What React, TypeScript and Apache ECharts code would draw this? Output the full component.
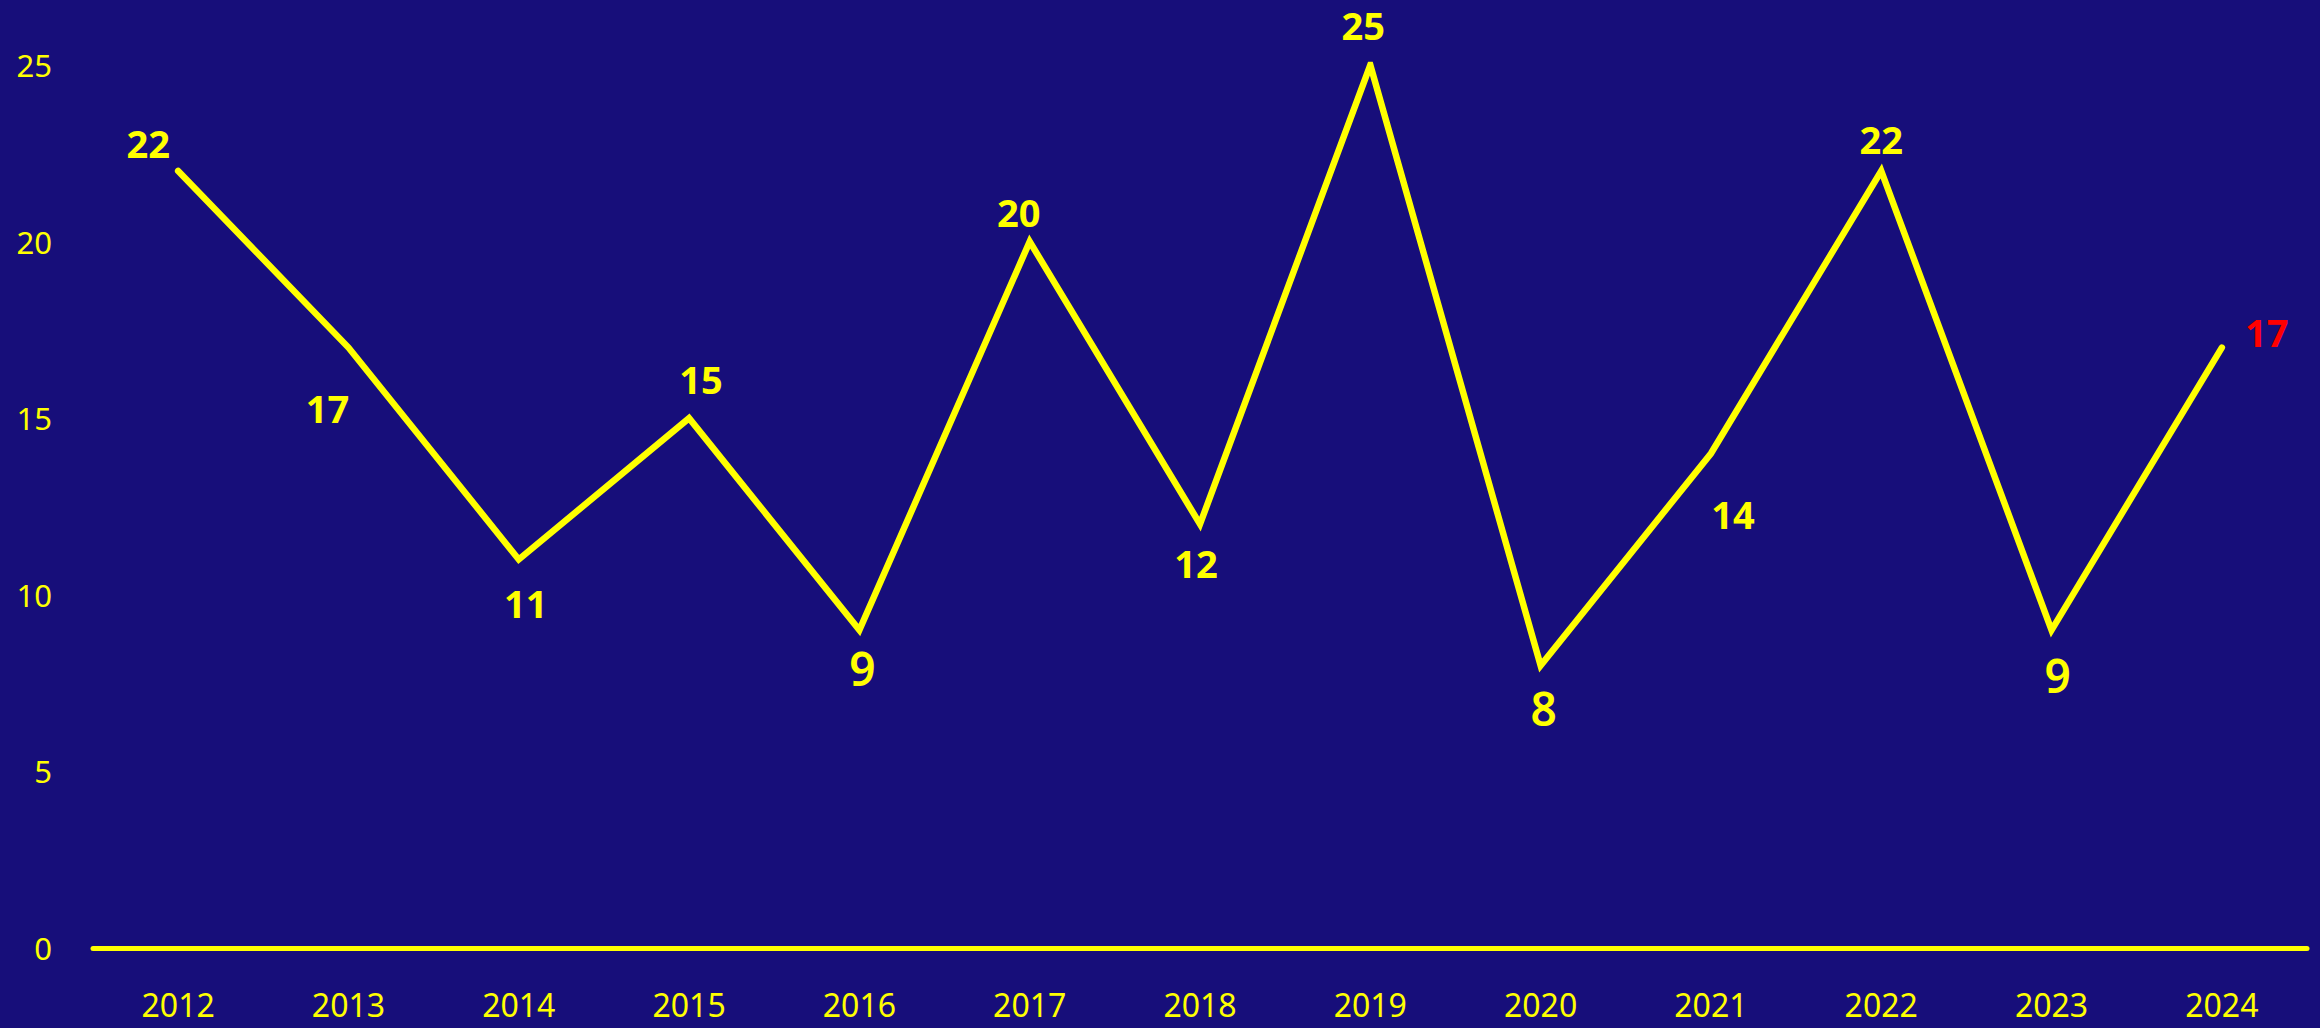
import React, { useEffect, useRef } from "react";
import * as echarts from "echarts";

const years = ["2012", "2013", "2014", "2015", "2016", "2017", "2018", "2019", "2020", "2021", "2022", "2023", "2024"];
const values = [22, 17, 11, 15, 9, 20, 12, 25, 8, 14, 22, 9, 17];
// label offsets (pixels) relative to each point
const labelOffsets: [number, number][] = [
  [-30, -28], [-21, 60], [7, 44], [12, -39], [3, 38], [-11, -30], [-4, 39],
  [-7, -40], [3, 43], [22, 60], [0, -32], [6, 45], [45, -16],
];
const yTicks = [0, 5, 10, 15, 20, 25];

const BG = "#170E7A";
const YELLOW = "#FFFF00";
const RED = "#FF0000";
const FONT = "'Noto Sans', 'Open Sans', sans-serif";

export default function App() {
  const ref = useRef<HTMLDivElement>(null);
  useEffect(() => {
    if (!ref.current) return;
    const chart = echarts.init(ref.current, undefined, { renderer: "svg" });
    const data = values.map((v, i) => {
      const single = v < 10;
      const last = i === values.length - 1;
      return {
        value: v,
        label: {
          show: true,
          position: "inside",
          offset: labelOffsets[i],
          align: "center",
          verticalAlign: "middle",
          color: last ? RED : YELLOW,
          fontFamily: FONT,
          fontWeight: single ? 600 : "bold",
          fontSize: single ? 46 : 38,
        },
      };
    });
    chart.setOption({
      animation: false,
      backgroundColor: BG,
      grid: { left: 93, right: 13, top: 65, bottom: 80, containLabel: false },
      xAxis: {
        type: "category",
        data: years,
        boundaryGap: true,
        axisLine: { show: true, lineStyle: { color: YELLOW, width: 5 } },
        axisTick: { show: false },
        axisLabel: { color: YELLOW, fontFamily: FONT, fontSize: 32, margin: 40 },
        splitLine: { show: false },
      },
      yAxis: {
        type: "value",
        min: 0,
        max: 25,
        interval: 5,
        axisLine: { show: false },
        axisTick: { show: false },
        splitLine: { show: false },
        axisLabel: {
          color: YELLOW,
          fontFamily: FONT,
          fontSize: 31,
          margin: 41,
          formatter: (v: number) => (yTicks.includes(v) ? String(v) : ""),
        },
      },
      series: [
        {
          type: "line",
          data,
          symbol: "circle",
          symbolSize: 1,
          showSymbol: true,
          itemStyle: { color: YELLOW },
          lineStyle: { color: YELLOW, width: 6.5, cap: "round", join: "miter" },
          z: 3,
        },
      ],
    });
    return () => chart.dispose();
  }, []);
  return (
    <div
      ref={ref}
      style={{ position: "absolute", left: 0, top: 0, width: 2320, height: 1028 }}
    />
  );
}
